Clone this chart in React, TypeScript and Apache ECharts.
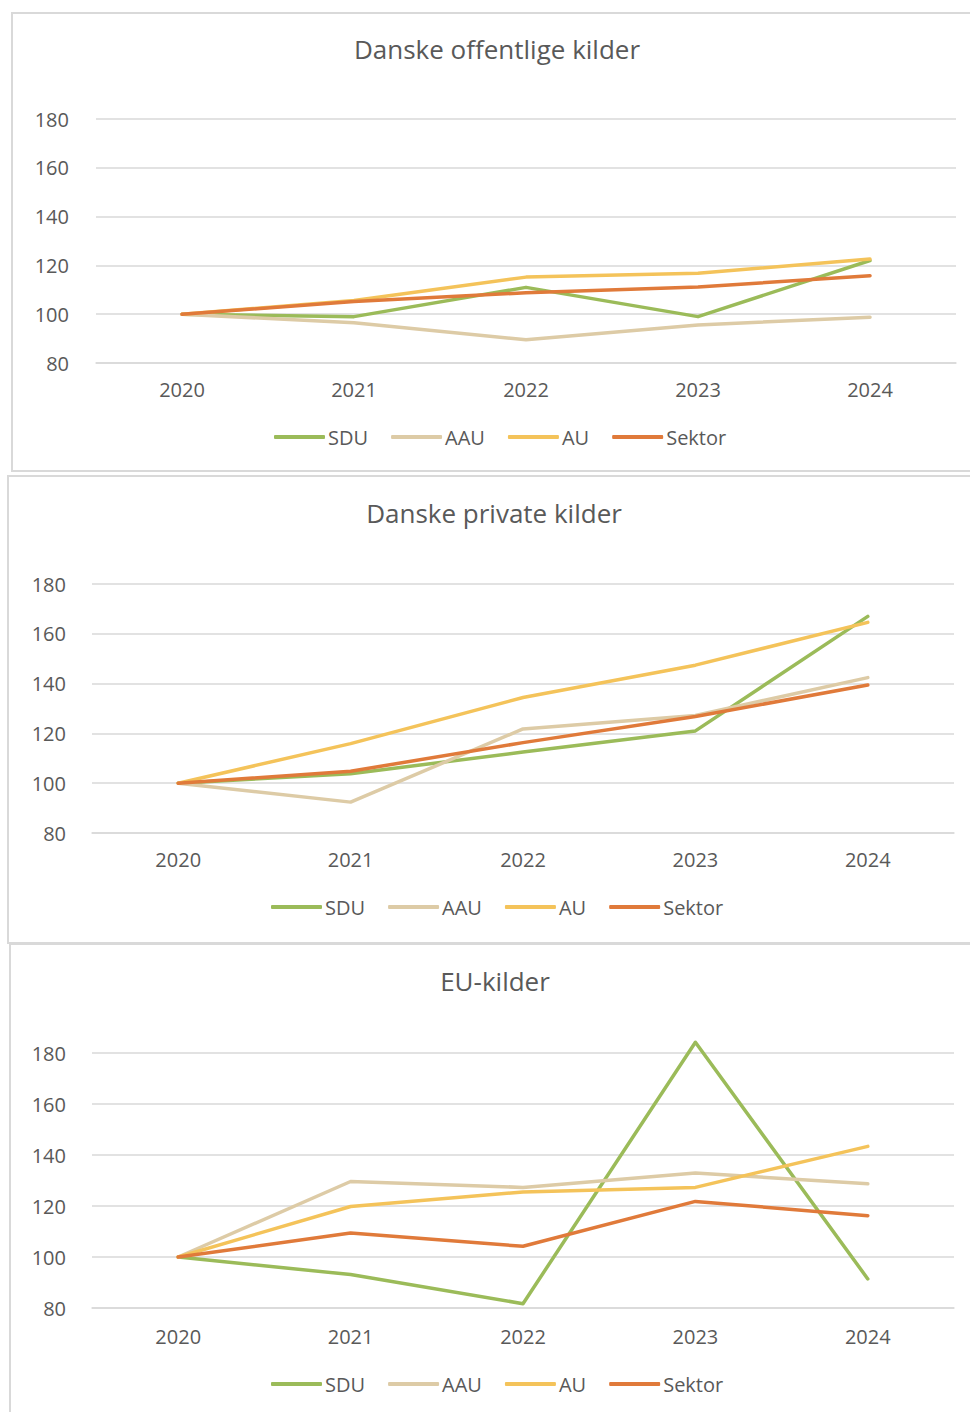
import React, { useEffect, useRef } from "react";
import * as echarts from "echarts";

const years = ["2020", "2021", "2022", "2023", "2024"];
const seriesNames = ["SDU", "AAU", "AU", "Sektor"];
const colors = ["#9BBB59", "#DDCBA6", "#F4C35A", "#E07A3A"];
const panelTitles = ["Danske offentlige kilder", "Danske private kilder", "EU-kilder"];

// Panel 1: Danske offentlige kilder
const offSDU = [100, 99, 111, 99, 122];
const offAAU = [100, 96.5, 89.5, 95.6, 98.8];
const offAU = [100, 105.6, 115.2, 116.8, 122.6];
const offSektor = [100, 105.2, 108.8, 111.1, 115.8];

// Panel 2: Danske private kilder
const privSDU = [100, 103.8, 112.5, 121, 167];
const privAAU = [100, 92.4, 121.8, 127.2, 142.4];
const privAU = [100, 115.9, 134.4, 147.4, 164.6];
const privSektor = [100, 104.8, 116.3, 126.8, 139.4];

// Panel 3: EU-kilder
const euSDU = [100, 93.1, 81.7, 184.2, 91.4];
const euAAU = [100, 129.6, 127.3, 132.9, 128.7];
const euAU = [100, 119.8, 125.5, 127.3, 143.4];
const euSektor = [100, 109.4, 104.2, 121.8, 116.2];

const panelData = [
  [offSDU, offAAU, offAU, offSektor],
  [privSDU, privAAU, privAU, privSektor],
  [euSDU, euAAU, euAU, euSektor],
];

const yMin = 80;
const yMax = 180;
const yStep = 20;

const FONT = "'Open Sans', 'Noto Sans', sans-serif";
const TEXT = "#595959";
const GRID = "#D9D9D9";

export default function App() {
  const ref = useRef<HTMLDivElement>(null);

  useEffect(() => {
    if (!ref.current) return;
    const chart = echarts.init(ref.current, undefined, { renderer: "svg" });

    const layout = [
      { left: 96, right: 14, top: 119, height: 244, titleX: 497, titleY: 49, legendLeft: 274, legendTop: 427, xMargin: 16, yMargin: 27 },
      { left: 92, right: 16, top: 584, height: 249, titleX: 494, titleY: 513, legendLeft: 271, legendTop: 897, xMargin: 16, yMargin: 26 },
      { left: 92, right: 16, top: 1053, height: 255, titleX: 495, titleY: 981, legendLeft: 271, legendTop: 1374, xMargin: 18, yMargin: 26 },
    ];

    const grids = layout.map((l) => ({ left: l.left, right: l.right, top: l.top, height: l.height }));

    const xAxes = layout.map((l, i) => ({
      type: "category",
      gridIndex: i,
      data: years,
      boundaryGap: true,
      axisLine: { show: true, lineStyle: { color: GRID, width: 1.5 } },
      axisTick: { show: false },
      axisLabel: { color: TEXT, fontSize: 20, fontFamily: FONT, margin: l.xMargin },
    }));

    const yAxes = layout.map((l, i) => ({
      type: "value",
      gridIndex: i,
      min: yMin,
      max: yMax,
      interval: yStep,
      axisLine: { show: false },
      axisTick: { show: false },
      splitLine: { lineStyle: { color: GRID, width: 1.5 } },
      axisLabel: { color: TEXT, fontSize: 20, fontFamily: FONT, margin: l.yMargin },
    }));

    const series: any[] = [];
    panelData.forEach((set, p) => {
      set.forEach((vals, s) => {
        series.push({
          type: "line",
          name: seriesNames[s],
          xAxisIndex: p,
          yAxisIndex: p,
          data: vals,
          showSymbol: false,
          symbol: "none",
          clip: false,
          lineStyle: { color: colors[s], width: 3.5, cap: "round", join: "round" },
          itemStyle: { color: colors[s] },
          z: 2 + s,
        });
      });
    });

    const legends = layout.map((l) => ({
      data: seriesNames,
      left: l.legendLeft,
      top: l.legendTop,
      orient: "horizontal",
      icon: "roundRect",
      itemWidth: 51,
      itemHeight: 4,
      itemGap: 23,
      padding: 0,
      selectedMode: false,
      textStyle: { color: TEXT, fontSize: 20, fontFamily: FONT, padding: [0, 0, 0, -2] },
    }));

    const graphics: any[] = [
      { type: "rect", shape: { x: 12, y: 13, width: 980, height: 458 }, style: { fill: "none", stroke: GRID, lineWidth: 2 }, silent: true },
      { type: "rect", shape: { x: 8, y: 476, width: 985, height: 467 }, style: { fill: "none", stroke: GRID, lineWidth: 2 }, silent: true },
      { type: "rect", shape: { x: 10, y: 944, width: 980, height: 500 }, style: { fill: "none", stroke: GRID, lineWidth: 2 }, silent: true },
    ];
    layout.forEach((l, i) => {
      graphics.push({
        type: "text",
        x: l.titleX,
        y: l.titleY,
        silent: true,
        style: {
          text: panelTitles[i],
          fill: TEXT,
          fontSize: 26,
          fontFamily: FONT,
          textAlign: "center",
          textVerticalAlign: "middle",
        },
      });
    });

    chart.setOption({
      animation: false,
      backgroundColor: "#FFFFFF",
      grid: grids,
      xAxis: xAxes,
      yAxis: yAxes,
      legend: legends,
      series,
      graphic: graphics,
    });

    return () => chart.dispose();
  }, []);

  return (
    <div
      ref={ref}
      style={{ position: "absolute", left: 0, top: 0, width: 970, height: 1412, background: "#fff" }}
    />
  );
}
